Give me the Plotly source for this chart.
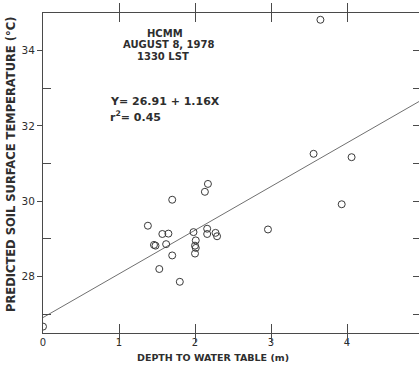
import plotly.graph_objects as go

# Observed data (depth to water table in m, predicted soil surface temp in C)
depth = [2.17, 2.13, 1.70, 1.38, 1.57, 1.65, 1.98, 2.16, 2.16, 2.27, 2.29,
         1.46, 1.48, 1.62, 2.01, 2.00, 2.01, 2.00, 1.70, 1.53, 1.80,
         2.96, 3.93, 3.56, 4.06, 3.65, 0.0]
temp = [30.46, 30.25, 30.04, 29.35, 29.13, 29.14, 29.18, 29.27, 29.13, 29.16, 29.07,
        28.84, 28.82, 28.86, 28.96, 28.82, 28.76, 28.61, 28.56, 28.20, 27.86,
        29.25, 29.92, 31.26, 31.17, 34.82, 26.67]

# Regression
intercept = 26.91
slope = 1.16
line_x = [0.0, 5.0]
line_y = [intercept + slope * v for v in line_x]

x_ticks = [0, 1, 2, 3, 4]
y_ticks = [28, 30, 32, 34]

ink = "#4a4a4a"
txt = "#2e2e2e"
font = "DejaVu Sans"

fig = go.Figure()
fig.add_trace(go.Scatter(x=line_x, y=line_y, mode="lines",
                         line=dict(color="#707070", width=1), showlegend=False))
fig.add_trace(go.Scatter(x=depth, y=temp, mode="markers",
                         marker=dict(symbol="circle-open", size=7,
                                     color="#3a3a3a", line=dict(width=1)),
                         showlegend=False))
# invisible trace to activate right-side tick axis
fig.add_trace(go.Scatter(x=[0], y=[30], yaxis="y2", mode="markers",
                         marker=dict(opacity=0), showlegend=False, hoverinfo="skip"))

fig.update_layout(
    width=419, height=366,
    margin=dict(l=43, r=0, t=13, b=33),
    paper_bgcolor="white", plot_bgcolor="white",
    font=dict(family=font, color=txt),
    xaxis=dict(range=[0, 4.947], tickvals=x_ticks, ticktext=[str(v) for v in x_ticks],
               ticks="inside", ticklen=9, tickcolor=ink, tickwidth=1,
               showline=True, linecolor=ink, linewidth=1, mirror="allticks",
               showgrid=False, zeroline=False,
               tickfont=dict(size=10, color=txt, family=font)),
    yaxis=dict(range=[26.5, 35.0], tickvals=y_ticks, ticktext=[str(v) for v in y_ticks],
               ticks="outside", ticklen=5, tickcolor=ink, tickwidth=1,
               showline=True, linecolor=ink, linewidth=1,
               showgrid=False, zeroline=False,
               minor=dict(tickvals=[27, 29, 31, 33], ticks="inside", ticklen=8,
                          tickcolor=ink, showgrid=False),
               tickfont=dict(size=10.5, color=txt, family=font)),
    yaxis2=dict(range=[26.5, 35.0], overlaying="y", side="right", anchor="x",
                dtick=1, tick0=26, ticks="inside", ticklen=6, tickcolor=ink,
                showticklabels=False, showline=False, showgrid=False, zeroline=False),
)

annos = [
    dict(text="<b>HCMM</b>", x=165, y=33),
    dict(text="<b>AUGUST 8, 1978</b>", x=168, y=45),
    dict(text="<b>1330 LST</b>", x=163, y=57),
]
for a in annos:
    fig.add_annotation(text=a["text"], xref="paper", yref="paper",
                       x=(a["x"] - 43) / 376, y=(366 - a["y"] - 33) / 320,
                       showarrow=False, xanchor="center", yanchor="middle",
                       font=dict(size=10, color=txt, family=font))

fig.add_annotation(text="<b>Y= 26.91 + 1.16X</b>", xref="paper", yref="paper",
                   x=(108 - 43) / 376, y=(366 - 101 - 33) / 320,
                   xanchor="left", yanchor="middle", showarrow=False,
                   font=dict(size=11, color=txt, family=font))
fig.add_annotation(text="<b>r<sup>2</sup>= 0.45</b>", xref="paper", yref="paper",
                   x=(108 - 43) / 376, y=(366 - 117 - 33) / 320,
                   xanchor="left", yanchor="middle", showarrow=False,
                   font=dict(size=11, color=txt, family=font))

fig.add_annotation(text="<b>DEPTH TO WATER TABLE (m)</b>", xref="paper", yref="paper",
                   x=(213 - 43) / 376, y=(366 - 357 - 33) / 320,
                   xanchor="center", yanchor="middle", showarrow=False,
                   font=dict(size=9.5, color=txt, family=font))
fig.add_annotation(text="<b>PREDICTED SOIL SURFACE TEMPERATURE (°C)</b>",
                   xref="paper", yref="paper", textangle=-90,
                   x=(11 - 43) / 376, y=(366 - 165 - 33) / 320,
                   xanchor="center", yanchor="middle", showarrow=False,
                   font=dict(size=11.5, color=txt, family=font))

fig.write_html("out.html", config={"displayModeBar": False},
               post_script="document.body.style.margin='0';document.body.style.padding='0';")
